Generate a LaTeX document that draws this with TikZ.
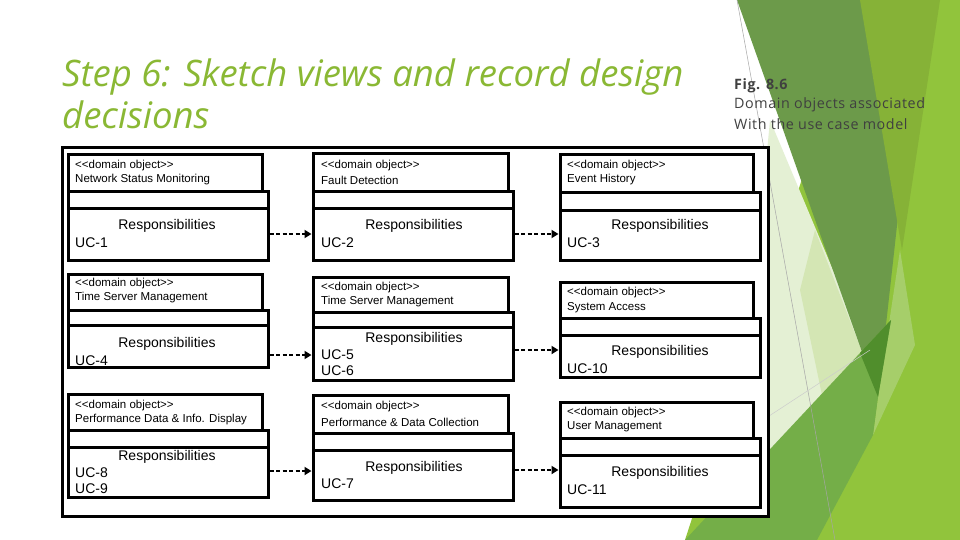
\documentclass[tikz,border=0pt]{standalone}
\usepackage{fontspec}
\setmainfont{Liberation Sans}
\newfontfamily\titlefont{Open Sans}
\newfontfamily\figfont[LetterSpace=4]{Open Sans}
\usetikzlibrary{arrows.meta,fit}
\definecolor{titlegreen}{RGB}{138,184,52}
\definecolor{figgray}{RGB}{64,64,64}
\definecolor{gbright}{RGB}{145,196,60}
\definecolor{golive}{RGB}{134,178,55}
\definecolor{gdark}{RGB}{108,154,74}
\definecolor{gdarker}{RGB}{80,142,44}
\definecolor{gmid}{RGB}{116,174,72}
\definecolor{gpale}{RGB}{228,240,212}
\definecolor{gpale2}{RGB}{212,230,180}
\definecolor{glight}{RGB}{166,206,106}
\newcommand{\dobj}[8]{%
  \node[objbox, fit={(#2,#5) (#8,#6)}] (#1b) {};
  \node[objbox, fit={(#2,#4) (#8,#5)}] (#1m) {};
  \node[objbox, fit={(#2,#3) (#7,#4)}] (#1h) {};
}
\begin{document}
\begin{tikzpicture}[x=1pt,y=-1pt,
  objbox/.style={draw=black, line width=3pt, fill=white, inner sep=0pt},
  frame/.style={draw=black, line width=3pt, fill=white, inner sep=0pt},
  txt/.style={anchor=west, inner sep=0pt, font=\fontsize{11.5}{13}\selectfont},
  uctxt/.style={anchor=west, inner sep=0pt, font=\fontsize{14}{16}\selectfont},
  resp/.style={inner sep=0pt, font=\fontsize{14}{16}\selectfont},
  dep/.style={line width=2pt, dash pattern=on 4pt off 2.5pt, -{Triangle[length=7pt,width=8pt]}},
  titletxt/.style={anchor=base west, inner sep=0pt, text=titlegreen, font=\titlefont\itshape\fontsize{36.5}{42}\selectfont},
  figtxt/.style={anchor=west, inner sep=0pt, text=figgray, font=\figfont\fontsize{14.3}{16}\selectfont}]
\useasboundingbox (0,0) rectangle (960,540);
\fill[white] (0,0) rectangle (960,540);
% background decoration
\fill[gbright] (860,0) -- (960,0) -- (960,540) -- (685,540) -- cycle;
\fill[gpale] (770,120) -- (875,370) -- (735,490) -- cycle;
\fill[gpale2] (815,230) -- (862,352) -- (822,395) -- (800,290) -- cycle;
\fill[gdark] (737,0) -- (922,0) -- (878,397) -- cycle;
\fill[golive] (860,0) -- (940,0) -- (902,250) -- cycle;
\fill[glight] (900,250) -- (915,345) -- (873,435) -- (878,397) -- cycle;
\fill[gmid] (685,540) -- (860,353) -- (891,320) -- (878,397) -- (873,435) -- (817,540) -- cycle;
\fill[gdarker] (860,353) -- (891,320) -- (878,397) -- cycle;
\draw[gray!70, line width=0.5pt] (737,0) -- (835,540);
\draw[gray!40, line width=0.5pt] (740,435) -- (870,350);
% title
\node[titletxt] (title1) at (62,87) {Step 6: Sketch views and record design};
\node[titletxt] (title2) at (62,129) {decisions};
% caption
\node[figtxt, font=\figfont\bfseries\fontsize{14.3}{16}\selectfont] (fig1) at (734,86) {Fig. 8.6};
\node[figtxt] (fig2) at (734,105) {Domain objects associated};
\node[figtxt] (fig3) at (734,124) {With the use case model};
% frame
\node[frame, fit={(62,148) (768,516)}] (frame) {};
% row 1
\dobj{a1}{68}{155}{191}{208}{260}{262}{268}
\dobj{a2}{313}{154}{191}{208}{260}{508}{513}
\dobj{a3}{560}{155}{192}{210}{260}{753}{760}
\node[txt] (a1s) at (75,166) {<{}<domain object>{}>};
\node[txt] (a1n) at (75,180) {Network Status Monitoring};
\node[resp] (a1r) at (167,226) {Responsibilities};
\node[uctxt] (a1u) at (75,243) {UC-1};
\node[txt] (a2s) at (321,166) {<{}<domain object>{}>};
\node[txt] (a2n) at (321,180) {Fault Detection};
\node[resp] (a2r) at (414,226) {Responsibilities};
\node[uctxt] (a2u) at (321,243) {UC-2};
\node[txt] (a3s) at (567,166) {<{}<domain object>{}>};
\node[txt] (a3n) at (567,180) {Event History};
\node[resp] (a3r) at (660,226) {Responsibilities};
\node[uctxt] (a3u) at (567,243) {UC-3};
\draw[dep] (a1b.east |- 0,234) -- (a2b.west |- 0,234);
\draw[dep] (a2b.east |- 0,234) -- (a3b.west |- 0,234);
% row 2
\dobj{b1}{68}{274}{310}{325}{367}{262}{268}
\dobj{b2}{313}{277}{312}{327}{380}{508}{513}
\dobj{b3}{560}{282}{318}{335}{377}{753}{760}
\node[txt] (b1s) at (75,284) {<{}<domain object>{}>};
\node[txt] (b1n) at (75,298) {Time Server Management};
\node[resp] (b1r) at (167,344) {Responsibilities};
\node[uctxt] (b1u) at (75,361) {UC-4};
\node[txt] (b2s) at (321,288) {<{}<domain object>{}>};
\node[txt] (b2n) at (321,302) {Time Server Management};
\node[resp] (b2r) at (414,339) {Responsibilities};
\node[uctxt] (b2u) at (321,355) {UC-5};
\node[uctxt] (b2v) at (321,371) {UC-6};
\node[txt] (b3s) at (567,293) {<{}<domain object>{}>};
\node[txt] (b3n) at (567,308) {System Access};
\node[resp] (b3r) at (660,352) {Responsibilities};
\node[uctxt] (b3u) at (567,369) {UC-10};
\draw[dep] (b1b.east |- 0,355) -- (b2b.west |- 0,355);
\draw[dep] (b2b.east |- 0,350) -- (b3b.west |- 0,350);
% row 3
\dobj{c1}{68}{394}{430}{447}{497}{262}{268}
\dobj{c2}{313}{395}{433}{450}{500}{508}{513}
\dobj{c3}{560}{402}{438}{455}{507}{753}{760}
\node[txt] (c1s) at (75,406) {<{}<domain object>{}>};
\node[txt] (c1n) at (75,420) {Performance Data \& Info. Display};
\node[resp] (c1r) at (167,457) {Responsibilities};
\node[uctxt] (c1u) at (75,473) {UC-8};
\node[uctxt] (c1v) at (75,489) {UC-9};
\node[txt] (c2s) at (321,407) {<{}<domain object>{}>};
\node[txt] (c2n) at (321,422) {Performance \& Data Collection};
\node[resp] (c2r) at (414,468) {Responsibilities};
\node[uctxt] (c2u) at (321,484) {UC-7};
\node[txt] (c3s) at (567,413) {<{}<domain object>{}>};
\node[txt] (c3n) at (567,427) {User Management};
\node[resp] (c3r) at (660,473) {Responsibilities};
\node[uctxt] (c3u) at (567,490) {UC-11};
\draw[dep] (c1b.east |- 0,471) -- (c2b.west |- 0,471);
\draw[dep] (c2b.east |- 0,470) -- (c3b.west |- 0,470);
\end{tikzpicture}
\end{document}
